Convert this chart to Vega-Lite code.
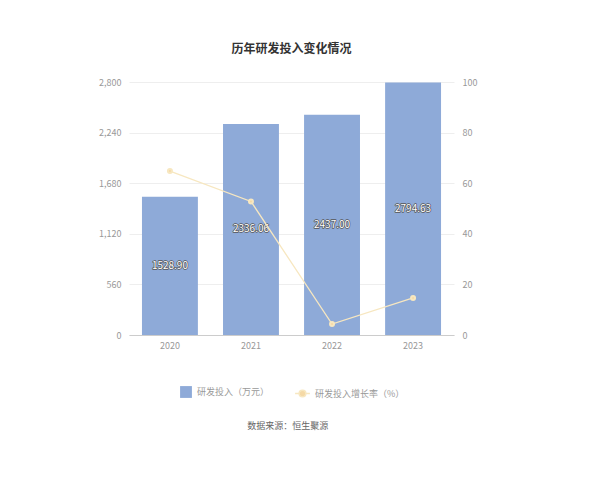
{
  "$schema": "https://vega.github.io/schema/vega-lite/v6.json",
  "padding": {"left": 98, "top": 43, "right": 5, "bottom": 5},
  "background": "white",
  "config": {
    "view": {"stroke": null},
    "font": "Noto Sans CJK SC",
    "axis": {"labelColor": "#999999", "labelFontSize": 9, "ticks": false, "domain": false, "title": null, "labelPadding": 8},
    "legend": {"labelColor": "#999999", "labelFontSize": 9, "orient": "bottom", "title": null, "symbolSize": 140, "offset": 35, "layout": {"bottom": {"anchor": "middle", "margin": 24}}}
  },
  "title": {"text": "数据来源：恒生聚源", "orient": "bottom", "anchor": "middle", "fontSize": 9, "fontWeight": "normal", "color": "#666666", "offset": 22},
  "vconcat": [
    {
      "title": {"text": "历年研发投入变化情况", "fontSize": 12, "fontWeight": "bold", "color": "#333333", "offset": 22},
      "width": 325,
      "height": 253,
      "data": {
        "values": [
          {"year": "2020", "rd": 1528.90, "growth": 64.8, "label": "1528.90"},
          {"year": "2021", "rd": 2336.06, "growth": 52.79, "label": "2336.06"},
          {"year": "2022", "rd": 2437.00, "growth": 4.32, "label": "2437.00"},
          {"year": "2023", "rd": 2794.63, "growth": 14.67, "label": "2794.63"}
        ]
      },
      "encoding": {
        "x": {
          "field": "year",
          "type": "nominal",
          "scale": {"paddingInner": 0.31, "paddingOuter": 0.16},
          "axis": {"labelAngle": 0, "domain": true, "domainColor": "#cccccc", "labelPadding": 6}
        }
      },
      "layer": [
        {
          "layer": [
            {
              "mark": {"type": "bar", "color": "#8eaad8"},
              "encoding": {
                "y": {
                  "field": "rd",
                  "type": "quantitative",
                  "scale": {"domain": [0, 2800]},
                  "axis": {"values": [0, 560, 1120, 1680, 2240, 2800], "format": ",.0f", "grid": true, "gridColor": "#eeeeee"}
                },
                "fill": {
                  "datum": "研发投入（万元）",
                  "type": "nominal",
                  "scale": {"range": ["#8eaad8"]},
                  "legend": {"symbolType": "square"}
                }
              }
            },
            {
              "mark": {"type": "text", "fontSize": 10, "stroke": "#555555", "strokeWidth": 1.4, "fill": "#555555", "strokeJoin": "round"},
              "transform": [{"calculate": "datum.rd / 2", "as": "mid"}],
              "encoding": {
                "y": {"field": "mid", "type": "quantitative", "axis": {"values": [0, 560, 1120, 1680, 2240, 2800], "format": ",.0f", "grid": true, "gridColor": "#eeeeee"}},
                "text": {"field": "label"}
              }
            },
            {
              "mark": {"type": "text", "fontSize": 10, "fill": "#ffffff"},
              "transform": [{"calculate": "datum.rd / 2", "as": "mid"}],
              "encoding": {
                "y": {"field": "mid", "type": "quantitative", "axis": {"values": [0, 560, 1120, 1680, 2240, 2800], "format": ",.0f", "grid": true, "gridColor": "#eeeeee"}},
                "text": {"field": "label"}
              }
            }
          ]
        },
        {
          "mark": {"type": "line", "color": "#f5dcad", "strokeWidth": 1.3, "point": {"filled": true, "color": "#f5d9a6", "size": 16}},
          "encoding": {
            "y": {
              "field": "growth",
              "type": "quantitative",
              "scale": {"domain": [0, 100]},
              "axis": {"orient": "right", "values": [0, 20, 40, 60, 80, 100], "grid": false}
            },
            "stroke": {
              "datum": "研发投入增长率（%）",
              "type": "nominal",
              "scale": {"range": ["#f7e7c0"]},
              "legend": {"symbolType": "M-1,0L-0.45,0M0.45,0L1,0M-0.45,0A0.45,0.45,0,1,0,0.45,0A0.45,0.45,0,1,0,-0.45,0", "symbolSize": 220, "symbolStrokeWidth": 1.5}
            }
          }
        }
      ],
      "resolve": {"scale": {"y": "independent"}}
    }
  ]
}
